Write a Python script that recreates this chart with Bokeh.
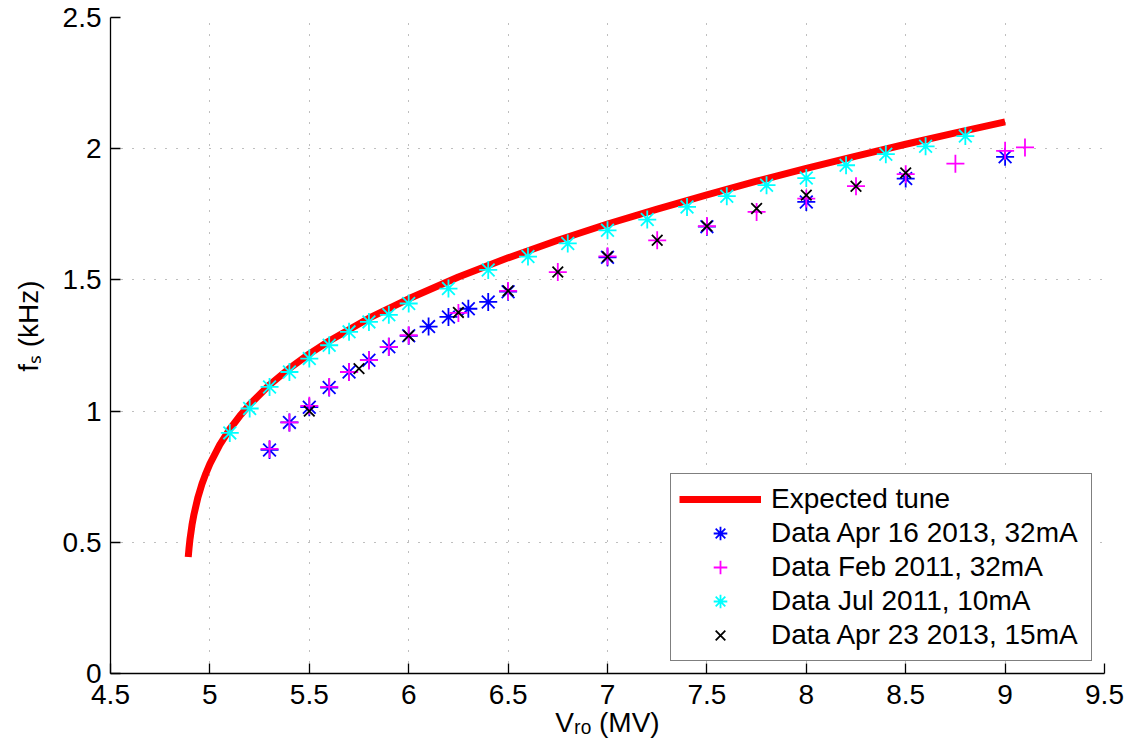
from bokeh.plotting import figure
from bokeh.models import Legend, LegendItem, FixedTicker
from bokeh.embed import file_html
from bokeh.resources import INLINE

# ---- data ----
curve_v = [4.891, 4.895, 4.9, 4.91, 4.92, 4.94, 4.96, 4.98, 5.0, 5.05, 5.1, 5.15, 5.2, 5.3, 5.4,
           5.5, 5.6, 5.8, 6.0, 6.25, 6.5, 6.75, 7.0, 7.25, 7.5, 7.75, 8.0, 8.25, 8.5, 8.75, 9.0]
curve_fs = [0.444, 0.478, 0.513, 0.566, 0.607, 0.672, 0.722, 0.763, 0.799, 0.872, 0.931, 0.981, 1.025,
            1.100, 1.163, 1.218, 1.267, 1.354, 1.428, 1.511, 1.584, 1.651, 1.713, 1.770, 1.824,
            1.876, 1.925, 1.972, 2.017, 2.060, 2.102]

apr16_v = [5.3, 5.4, 5.5, 5.6, 5.7, 5.8, 5.9, 6.0, 6.1, 6.2, 6.3, 6.4, 6.5, 7.0, 7.5, 8.0, 8.5, 9.0]
apr16_fs = [0.852, 0.957, 1.015, 1.090, 1.149, 1.194, 1.245, 1.287, 1.322, 1.359, 1.390, 1.416,
            1.455, 1.586, 1.703, 1.797, 1.886, 1.969]

feb11_v = [5.3, 5.4, 5.5, 5.6, 5.7, 5.8, 5.9, 6.0, 6.25, 6.5, 6.75, 7.0, 7.25, 7.5, 7.75, 8.0,
           8.25, 8.5, 8.75, 9.0, 9.1]
feb11_fs = [0.856, 0.957, 1.020, 1.092, 1.149, 1.194, 1.245, 1.289, 1.374, 1.458, 1.530, 1.590,
            1.651, 1.705, 1.759, 1.810, 1.857, 1.903, 1.943, 1.992, 2.005]

jul11_v = [5.1, 5.2, 5.3, 5.4, 5.5, 5.6, 5.7, 5.8, 5.9, 6.0, 6.2, 6.4, 6.6, 6.8, 7.0, 7.2, 7.4,
           7.6, 7.8, 8.0, 8.2, 8.4, 8.6, 8.8]
jul11_fs = [0.917, 1.010, 1.092, 1.149, 1.200, 1.251, 1.302, 1.340, 1.367, 1.410, 1.467, 1.538,
            1.589, 1.639, 1.689, 1.730, 1.778, 1.819, 1.861, 1.888, 1.937, 1.979, 2.009, 2.048]

apr23_v = [5.5, 5.75, 6.0, 6.25, 6.5, 6.75, 7.0, 7.25, 7.5, 7.75, 8.0, 8.25, 8.5]
apr23_fs = [1.000, 1.162, 1.287, 1.376, 1.458, 1.530, 1.588, 1.651, 1.705, 1.772, 1.823, 1.857, 1.908]

series_labels = ["Expected tune", "Data Apr 16 2013, 32mA", "Data Feb 2011, 32mA",
                 "Data Jul 2011, 10mA", "Data Apr 23 2013, 15mA"]

x_ticks = [4.5, 5, 5.5, 6, 6.5, 7, 7.5, 8, 8.5, 9, 9.5]
x_tick_labels = ["4.5", "5", "5.5", "6", "6.5", "7", "7.5", "8", "8.5", "9", "9.5"]
y_ticks = [0, 0.5, 1, 1.5, 2, 2.5]
y_tick_labels = ["0", "0.5", "1", "1.5", "2", "2.5"]

x_title = "V\u1d63\u2092 (MV)"
y_title = "f\u209b (kHz)"

FONT = "Liberation Sans"
FS = "28px"

p = figure(width=1133, height=749, x_range=(4.5, 9.5), y_range=(0, 2.5),
           output_backend="svg", toolbar_location=None,
           min_border_left=110, min_border_right=29, min_border_top=17, min_border_bottom=76)
p.outline_line_color = None
p.background_fill_color = "white"
p.border_fill_color = "white"

for ax, ticks, labels in ((p.xaxis[0], x_ticks, x_tick_labels), (p.yaxis[0], y_ticks, y_tick_labels)):
    ax.ticker = FixedTicker(ticks=ticks)
    ax.major_label_overrides = {t: l for t, l in zip(ticks, labels)}
    ax.major_tick_in = 10
    ax.major_tick_out = 0
    ax.minor_tick_line_color = None
    ax.axis_line_color = "black"
    ax.axis_line_width = 1.3
    ax.major_tick_line_color = "black"
    ax.major_tick_line_width = 1.3
    ax.major_label_text_font = FONT
    ax.major_label_text_font_size = FS
    ax.major_label_text_color = "black"
    ax.axis_label_text_font = FONT
    ax.axis_label_text_font_size = FS
    ax.axis_label_text_font_style = "normal"
    ax.axis_label_text_color = "black"

# leading no-break spaces lift the rotated title slightly above the axis middle, as in the reference
p.xaxis[0].axis_label = x_title
p.yaxis[0].axis_label = "\u00a0" * 5 + y_title
p.xaxis[0].major_label_standoff = 11
p.xaxis[0].axis_label_standoff = 0
p.yaxis[0].major_label_standoff = 9
p.yaxis[0].axis_label_standoff = 16

for g in (p.xgrid[0], p.ygrid[0]):
    g.grid_line_color = "#7f7f7f"
    g.grid_line_width = 1
    g.grid_line_dash = "1 10"

r_curve = p.line(curve_v, curve_fs, line_color="#ff0000", line_width=7)
r_apr16 = p.scatter(apr16_v, apr16_fs, marker="asterisk", size=18, line_color="#0000ff", line_width=1.8)
r_feb11 = p.scatter(feb11_v, feb11_fs, marker="cross", size=18, line_color="#ff00ff", line_width=1.8)
r_jul11 = p.scatter(jul11_v, jul11_fs, marker="asterisk", size=18, line_color="#00ffff", line_width=1.8)
r_apr23 = p.scatter(apr23_v, apr23_fs, marker="x", size=15, line_color="black", line_width=1.8)

legend = Legend(items=[LegendItem(label=lab, renderers=[r]) for lab, r in
                       zip(series_labels, [r_curve, r_apr16, r_feb11, r_jul11, r_apr23])],
                location="bottom_right", margin=12, padding=8, spacing=0,
                glyph_width=82, glyph_height=34, label_height=34, label_standoff=10,
                label_width=312,
                label_text_font=FONT, label_text_font_size=FS, label_text_color="black",
                border_line_color="black", border_line_width=1.5,
                background_fill_color="white", background_fill_alpha=1.0)
p.add_layout(legend)

open("out.html", "w").write(file_html(p, INLINE))
